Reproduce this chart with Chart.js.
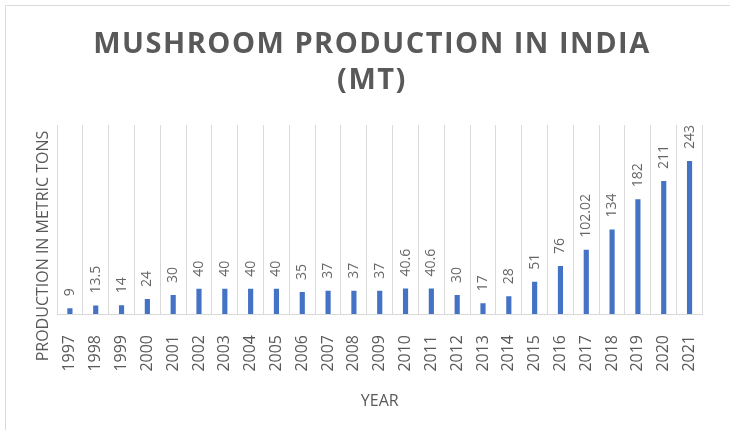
<!DOCTYPE html>
<html>
<head>
<meta charset="utf-8">
<title>Mushroom production in India</title>
<script src="https://cdn.jsdelivr.net/npm/chart.js@4.4.1/dist/chart.umd.min.js"></script>
<style>
  html, body { margin: 0; padding: 0; background: #ffffff; }
  #wrap { width: 730px; height: 434px; }
</style>
</head>
<body>
<div id="wrap"><canvas id="mushroomChart" width="730" height="434"></canvas></div>
<script>
// data
const years = ['1997', '1998', '1999', '2000', '2001', '2002', '2003', '2004', '2005',
  '2006', '2007', '2008', '2009', '2010', '2011', '2012', '2013', '2014', '2015',
  '2016', '2017', '2018', '2019', '2020', '2021'];
const production = [9, 13.5, 14, 24, 30, 40, 40, 40, 40, 35, 37, 37, 37, 40.6, 40.6,
  30, 17, 28, 51, 76, 102.02, 134, 182, 211, 243];
const chartTitle = ['MUSHROOM PRODUCTION IN INDIA', '(MT)'];
const yAxisTitle = 'PRODUCTION IN METRIC TONS';
const xAxisTitle = 'YEAR';
const yMin = 0;
const yMax = 300;

const textGray = '#595959';
const gridGray = '#d9d9d9';
const barBlue = '#4472c4';

Chart.defaults.font.family = '"Open Sans", "DejaVu Sans", sans-serif';

// draws value labels, the spaced title, y axis title and the frame
const extraText = {
  id: 'extraText',
  afterDatasetsDraw(chart) {
    const ctx = chart.ctx;
    const meta = chart.getDatasetMeta(0);
    ctx.save();
    ctx.fillStyle = '#666666';
    ctx.font = '14px "Open Sans"';
    ctx.textAlign = 'left';
    ctx.textBaseline = 'middle';
    meta.data.forEach(function (bar, i) {
      ctx.save();
      ctx.translate(bar.x, bar.y - 12);
      ctx.rotate(-Math.PI / 2);
      ctx.fillText(String(production[i]), 0, 0);
      ctx.restore();
    });
    ctx.restore();
  },
  afterDraw(chart) {
    const ctx = chart.ctx;
    // title
    ctx.save();
    ctx.fillStyle = textGray;
    ctx.font = 'bold 29px "Open Sans"';
    ctx.textAlign = 'center';
    ctx.textBaseline = 'alphabetic';
    ctx.letterSpacing = '1.5px';
    ctx.fillText(chartTitle[0], 372, 53);
    ctx.fillText(chartTitle[1], 372, 89);
    ctx.restore();

    // y axis title
    ctx.save();
    ctx.fillStyle = textGray;
    ctx.font = '16px "Open Sans"';
    ctx.textAlign = 'center';
    ctx.textBaseline = 'middle';
    ctx.translate(43, 246);
    ctx.rotate(-Math.PI / 2);
    ctx.fillText(yAxisTitle, 0, 0);
    ctx.restore();

    // chart frame (only top and left are in view)
    ctx.save();
    ctx.strokeStyle = gridGray;
    ctx.lineWidth = 1;
    ctx.beginPath();
    ctx.moveTo(730, 5.5);
    ctx.lineTo(5.5, 5.5);
    ctx.lineTo(5.5, 430);
    ctx.stroke();
    ctx.restore();
  }
};

const ctxMushroom = document.getElementById('mushroomChart').getContext('2d');
const mushroomChart = new Chart(ctxMushroom, {
  type: 'bar',
  data: {
    labels: years,
    datasets: [{
      label: 'Production',
      data: production,
      backgroundColor: barBlue,
      borderWidth: 0,
      barPercentage: 0.2,
      categoryPercentage: 1
    }]
  },
  options: {
    responsive: false,
    animation: false,
    layout: {
      padding: { left: 57, right: 13, top: 125, bottom: 0 }
    },
    plugins: {
      legend: { display: false },
      title: { display: false },
      tooltip: { enabled: false }
    },
    scales: {
      x: {
        grid: { color: gridGray, drawTicks: false, offset: true },
        border: { color: gridGray },
        ticks: {
          color: textGray,
          font: { size: 16 },
          minRotation: 90,
          maxRotation: 90,
          autoSkip: false,
          padding: 21
        },
        title: {
          display: true,
          text: xAxisTitle,
          color: textGray,
          font: { size: 16 },
          padding: { top: 0, bottom: 23 }
        },
        afterFit: function (scale) {
          scale.height = 120;
        }
      },
      y: {
        display: false,
        min: yMin,
        max: yMax
      }
    }
  },
  plugins: [extraText]
});
</script>
</body>
</html>
